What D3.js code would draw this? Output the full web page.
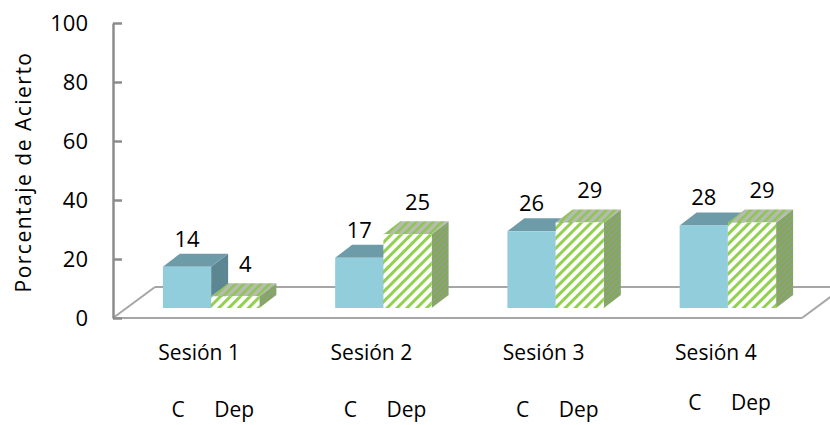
<!DOCTYPE html>
<html>
<head>
<meta charset="utf-8">
<script src="https://cdn.jsdelivr.net/npm/d3@7"></script>
<style>
  body { margin: 0; background: #fff; }
  text { font-family: "Open Sans", "DejaVu Sans", sans-serif; fill: #000; }
</style>
</head>
<body>
<div id="chart"></div>
<script>
// data
const categories = ["Sesión 1", "Sesión 2", "Sesión 3", "Sesión 4"]
const valuesC = [14, 17, 26, 28]
const valuesDep = [4, 25, 29, 29]
const seriesNames = ["C", "Dep"]
const yTicks = [0, 20, 40, 60, 80, 100]
const yTitle = "Porcentaje de Acierto"

const W = 830, H = 425

const svg = d3.select("#chart").append("svg")
  .attr("width", W)
  .attr("height", H)

svg.append("rect").attr("width", W).attr("height", H).attr("fill", "#fff")

const y = d3.scaleLinear().domain([0, 100]).range([318, 23])
const x = d3.scaleBand().domain(categories).range([113, 802])

// 3d bits
const floorDx = 42, floorDy = -31   // floor depth
const shiftX = 12, shiftY = -10     // front face of bars vs front edge of floor
const barDx = 17, barDy = -13       // bar depth
const bw = x.bandwidth() * 0.28

// stripes
const defs = svg.append("defs")
function stripes(id, bg, fg, size, w) {
  const p = defs.append("pattern")
    .attr("id", id)
    .attr("patternUnits", "userSpaceOnUse")
    .attr("width", size).attr("height", size)
    .attr("patternTransform", "rotate(45)")
  p.append("rect").attr("width", size).attr("height", size).attr("fill", bg)
  p.append("rect").attr("width", w).attr("height", size).attr("fill", fg)
}
stripes("depFront", "#ffffff", "#92d050", 7, 3)
stripes("depTop", "#b8bab4", "#8cc650", 6, 2.5)
stripes("depSide", "#939c8a", "#7cae4c", 4, 2)

const styles = {
  C: { front: "#92cddc", top: "#6e9ba8", side: "#5d8693" },
  Dep: { front: "url(#depFront)", top: "url(#depTop)", side: "url(#depSide)" }
}

const floorColor = "#a6a6a6"

// floor
const x0 = x.range()[0], x1 = x.range()[1], y0 = y(0)
svg.append("line")
  .attr("x1", x0 + floorDx).attr("y1", y0 + floorDy)
  .attr("x2", W + 5).attr("y2", y0 + floorDy)
  .attr("stroke", floorColor).attr("stroke-width", 2)
svg.append("line")
  .attr("x1", x0).attr("y1", y0)
  .attr("x2", x0 + floorDx).attr("y2", y0 + floorDy)
  .attr("stroke", floorColor).attr("stroke-width", 2)
svg.append("line")
  .attr("x1", x1).attr("y1", y0)
  .attr("x2", x1 + floorDx).attr("y2", y0 + floorDy)
  .attr("stroke", floorColor).attr("stroke-width", 2)
svg.append("line")
  .attr("x1", x0).attr("y1", y0)
  .attr("x2", x1).attr("y2", y0)
  .attr("stroke", floorColor).attr("stroke-width", 2)

// bars
const bars = []
categories.forEach((c, i) => {
  const mid = x(c) + x.bandwidth() / 2 + shiftX
  bars.push({ cat: c, s: "C", v: valuesC[i], left: mid - bw })
  bars.push({ cat: c, s: "Dep", v: valuesDep[i], left: mid })
})

const g = svg.selectAll("g.bar")
  .data(bars)
  .enter().append("g")
  .attr("class", "bar")

const pts = a => a.map(p => p.join(",")).join(" ")

g.append("polygon")
  .attr("points", d => {
    const top = y(d.v) + shiftY, bot = y(0) + shiftY, r = d.left + bw
    return pts([[r, top], [r + barDx, top + barDy], [r + barDx, bot + barDy], [r, bot]])
  })
  .attr("fill", d => styles[d.s].side)

g.append("polygon")
  .attr("points", d => {
    const top = y(d.v) + shiftY, r = d.left + bw
    return pts([[d.left, top], [r, top], [r + barDx, top + barDy], [d.left + barDx, top + barDy]])
  })
  .attr("fill", d => styles[d.s].top)

g.append("rect")
  .attr("x", d => d.left)
  .attr("y", d => y(d.v) + shiftY)
  .attr("width", bw)
  .attr("height", d => y(0) - y(d.v))
  .attr("fill", d => styles[d.s].front)

// value labels
g.append("text")
  .attr("x", d => d.left + bw / 2 + (d.s === "C" ? 0 : 10))
  .attr("y", d => y(d.v) + shiftY + barDy - (d.s === "C" ? 7 : 11))
  .attr("text-anchor", "middle")
  .attr("font-size", 22)
  .text(d => d.v)

// y axis
const yAxis = svg.append("g")
  .attr("transform", `translate(${x0},0)`)
  .call(d3.axisLeft(y).tickValues(yTicks).tickSize(-9).tickSizeOuter(0).tickPadding(25))
yAxis.select(".domain").attr("stroke", "#8c8c8c").attr("stroke-width", 2.5)
yAxis.selectAll(".tick line").attr("stroke", "#8c8c8c").attr("stroke-width", 2.5)
yAxis.selectAll(".tick text")
  .attr("font-size", 22)
  .attr("font-family", "'Open Sans', sans-serif")
  .attr("fill", "#000")

svg.append("text")
  .attr("transform", "translate(31,172) rotate(-90)")
  .attr("text-anchor", "middle")
  .attr("font-size", 21)
  .attr("letter-spacing", 1.5)
  .text(yTitle)

// category labels
svg.selectAll("text.cat")
  .data(categories)
  .enter().append("text")
  .attr("class", "cat")
  .attr("x", d => x(d) + x.bandwidth() / 2)
  .attr("y", 360)
  .attr("text-anchor", "middle")
  .attr("font-size", 21)
  .text(d => d)

// C / Dep under each session
categories.forEach((c, i) => {
  const cx = x(c) + x.bandwidth() / 2
  const yy = i === 3 ? 410 : 417
  svg.append("text")
    .attr("x", cx - 21).attr("y", yy)
    .attr("text-anchor", "middle")
    .attr("font-size", 21)
    .text(seriesNames[0])
  svg.append("text")
    .attr("x", cx + 35).attr("y", yy)
    .attr("text-anchor", "middle")
    .attr("font-size", 21)
    .text(seriesNames[1])
})
</script>
</body>
</html>
